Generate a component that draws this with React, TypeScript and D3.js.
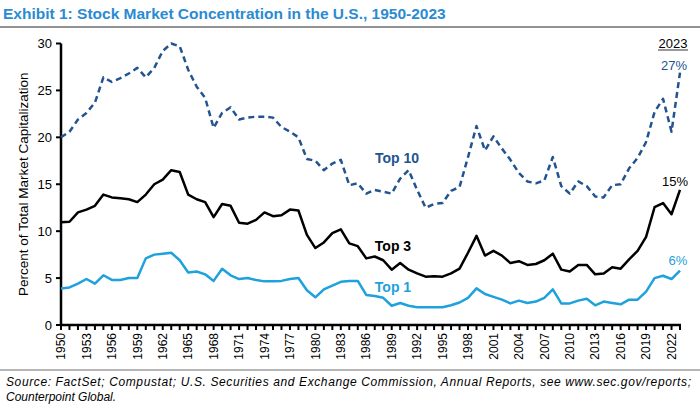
import React from "react";
import * as d3 from "d3";

const years: number[] = Array.from({ length: 74 }, (_, i) => 1950 + i);

const top10: number[] = [
  20.0, 20.6, 21.9, 22.6, 23.7, 26.4, 25.9, 26.3, 26.8, 27.4,
  26.4, 27.4, 29.2, 30.0, 29.7, 27.2, 25.4, 24.2, 21.0, 22.6,
  23.2, 21.9, 22.1, 22.2, 22.2, 22.1, 21.1, 20.6, 20.0, 17.7,
  17.5, 16.5, 17.2, 17.6, 14.9, 15.1, 14.0, 14.4, 14.2, 14.0,
  15.6, 16.5, 14.4, 12.5, 12.9, 13.0, 14.3, 14.7, 17.9, 21.2,
  18.6, 20.1, 18.8, 17.6, 16.2, 15.3, 15.1, 15.4, 17.9, 14.8,
  14.0, 15.3, 14.8, 13.7, 13.6, 14.9, 15.0, 16.7, 17.8, 19.5,
  22.7, 24.1, 20.6, 26.9,
];

const top3: number[] = [
  10.95, 11.0, 12.0, 12.3, 12.7, 13.9, 13.6, 13.5, 13.4, 13.1,
  13.9, 15.0, 15.5, 16.5, 16.3, 13.9, 13.4, 13.1, 11.5, 12.9,
  12.7, 10.9, 10.8, 11.2, 12.0, 11.6, 11.7, 12.3, 12.2, 9.6,
  8.2, 8.8, 9.8, 10.2, 8.7, 8.4, 7.1, 7.3, 6.9, 5.9,
  6.6, 5.9, 5.5, 5.15, 5.2, 5.15, 5.5, 6.0, 7.7, 9.5,
  7.4, 7.9, 7.4, 6.6, 6.8, 6.4, 6.5, 6.9, 7.6, 5.9,
  5.7, 6.4, 6.4, 5.4, 5.5, 6.15, 6.0, 7.0, 7.9, 9.4,
  12.55, 13.0, 11.8, 14.4,
];

const top1: number[] = [
  3.9, 4.0, 4.4, 4.9, 4.4, 5.3, 4.8, 4.8, 5.0, 5.0,
  7.1, 7.5, 7.6, 7.7, 6.9, 5.6, 5.7, 5.4, 4.7, 6.0,
  5.3, 4.9, 5.0, 4.8, 4.65, 4.65, 4.7, 4.9, 5.0, 3.7,
  2.95, 3.8, 4.2, 4.6, 4.7, 4.7, 3.2, 3.1, 2.9, 2.05,
  2.35, 2.05, 1.9, 1.9, 1.9, 1.9, 2.1, 2.4, 2.9, 3.9,
  3.3, 3.0, 2.7, 2.3, 2.6, 2.35, 2.5, 2.9, 3.8, 2.3,
  2.3, 2.6, 2.8, 2.1, 2.5, 2.35, 2.2, 2.7, 2.7, 3.55,
  5.0, 5.25, 4.9, 5.8,
];

const yTicks: number[] = [0, 5, 10, 15, 20, 25, 30];
const xLabelYears: number[] = years.filter((y) => (y - 1950) % 3 === 0);

const TITLE = "Exhibit 1: Stock Market Concentration in the U.S., 1950-2023";
const Y_LABEL = "Percent of Total Market Capitalization";
const SOURCE1 =
  "Source: FactSet; Compustat; U.S. Securities and Exchange Commission, Annual Reports, see www.sec.gov/reports;";
const SOURCE2 = "Counterpoint Global.";

const C_TOP10 = "#23548f";
const C_TOP3 = "#000000";
const C_TOP1 = "#1ea1dc";
const C_TITLE = "#2a8bd2";

export default function App() {
  const x = d3.scaleLinear().domain([1950, 2023]).range([61, 680]);
  const y = d3.scaleLinear().domain([0, 30]).range([325, 43.5]);
  const mk = (vals: number[]) =>
    d3
      .line<number>()
      .x((_, i) => x(years[i]))
      .y((v) => y(v))(vals) as string;

  const font = "Arial, 'Liberation Sans', sans-serif";

  return (
    <svg
      width={700}
      height={406}
      style={{ position: "absolute", left: 0, top: 0, background: "#fff" }}
      fontFamily={font}
    >
      <rect width={700} height={406} fill="#fff" />
      <text x={3} y={19} fontSize={15.5} fontWeight="bold" fill={C_TITLE}>
        {TITLE}
      </text>
      <line x1={0} x2={700} y1={27} y2={27} stroke="#6e6e6e" strokeWidth={1.5} />

      {/* y axis */}
      <line x1={x(1950)} x2={x(1950)} y1={y(30)} y2={y(0) + 1} stroke="#000" strokeWidth={2.5} />
      {yTicks.map((t) => (
        <g key={t}>
          <line x1={x(1950) - 5} x2={x(1950)} y1={y(t)} y2={y(t)} stroke="#000" strokeWidth={2} />
          <text x={x(1950) - 9} y={y(t)} dy="0.35em" textAnchor="end" fontSize={13} fill="#000">
            {t}
          </text>
        </g>
      ))}
      <text
        transform={`translate(23,${(y(0) + y(30)) / 2}) rotate(-90)`}
        textAnchor="middle"
        dy="0.35em"
        fontSize={13.5}
        fill="#000"
      >
        {Y_LABEL}
      </text>

      {/* x axis */}
      <line x1={x(1950) - 1} x2={x(2023) + 1} y1={y(0)} y2={y(0)} stroke="#000" strokeWidth={2.5} />
      {years.map((yr) => (
        <line key={yr} x1={x(yr)} x2={x(yr)} y1={y(0)} y2={y(0) + 5} stroke="#000" strokeWidth={2} />
      ))}
      {xLabelYears.map((yr) => (
        <text
          key={yr}
          transform={`translate(${x(yr)},${y(0) + 8}) rotate(-90)`}
          textAnchor="end"
          dy="0.35em"
          fontSize={12}
          fill="#000"
        >
          {yr}
        </text>
      ))}

      {/* lines */}
      <path d={mk(top1)} fill="none" stroke={C_TOP1} strokeWidth={2.5} strokeLinejoin="round" />
      <path d={mk(top3)} fill="none" stroke={C_TOP3} strokeWidth={2.5} strokeLinejoin="round" />
      <path
        d={mk(top10)}
        fill="none"
        stroke={C_TOP10}
        strokeWidth={2.5}
        strokeDasharray="6,4"
        strokeLinejoin="round"
      />

      {/* series labels */}
      <text x={397} y={158} dy="0.35em" textAnchor="middle" fontSize={14} fontWeight="bold" fill={C_TOP10}>
        Top 10
      </text>
      <text x={393} y={246} dy="0.35em" textAnchor="middle" fontSize={14} fontWeight="bold" fill={C_TOP3}>
        Top 3
      </text>
      <text x={393} y={287} dy="0.35em" textAnchor="middle" fontSize={14} fontWeight="bold" fill={C_TOP1}>
        Top 1
      </text>

      {/* end annotations */}
      <text x={673} y={43} dy="0.35em" textAnchor="middle" fontSize={13} fill="#000">
        2023
      </text>
      <line x1={658} x2={688} y1={50} y2={50} stroke="#555" strokeWidth={1.2} />
      <text x={674} y={65} dy="0.35em" textAnchor="middle" fontSize={13} fill={C_TOP10}>
        27%
      </text>
      <text x={675} y={181} dy="0.35em" textAnchor="middle" fontSize={13} fill={C_TOP3}>
        15%
      </text>
      <text x={678} y={260} dy="0.35em" textAnchor="middle" fontSize={13} fill={C_TOP1}>
        6%
      </text>

      {/* footer */}
      <line x1={0} x2={700} y1={370} y2={370} stroke="#6e6e6e" strokeWidth={1.2} />
      <text x={6} y={386} fontSize={12} fontStyle="italic" fill="#000" textLength={685} lengthAdjust="spacing">
        {SOURCE1}
      </text>
      <text x={6} y={401} fontSize={12} fontStyle="italic" fill="#000">
        {SOURCE2}
      </text>
    </svg>
  );
}
